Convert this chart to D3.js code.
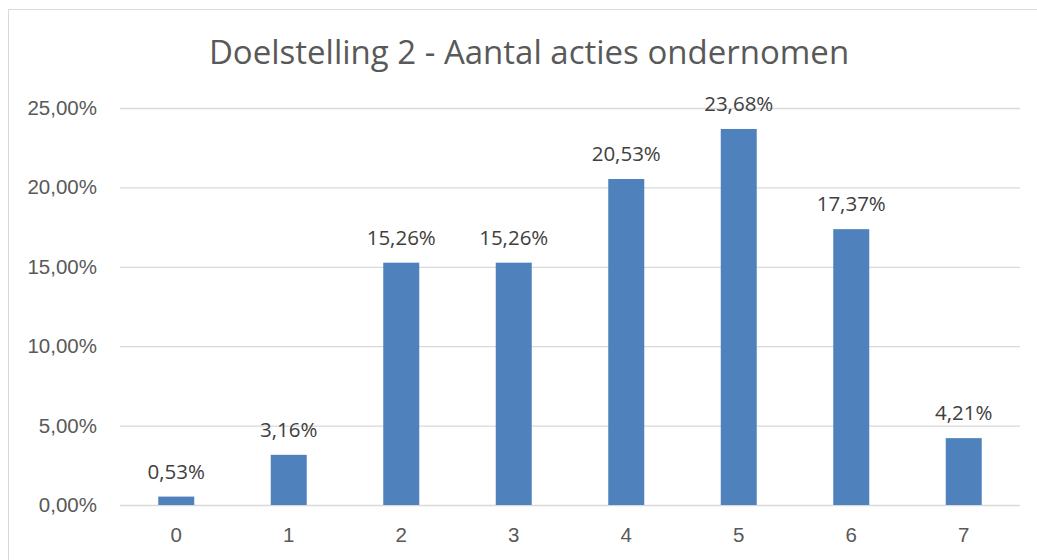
<!DOCTYPE html>
<html><head><meta charset="utf-8">
<script src="https://cdn.jsdelivr.net/npm/d3@7"></script>
<style>body{margin:0;background:#fff;}svg{display:block;font-family:"Open Sans","Liberation Sans",sans-serif;}</style>
</head><body>
<svg id="c" width="1037" height="560"></svg>
<script>
const title = "Doelstelling 2 - Aantal acties ondernomen";
const categories = ["0","1","2","3","4","5","6","7"];
const values = [0.53, 3.16, 15.26, 15.26, 20.53, 23.68, 17.37, 4.21];
const yTicks = [0, 5, 10, 15, 20, 25];

const svg = d3.select("#c");
const fmt = v => v.toFixed(2).replace(".", ",") + "%";

svg.append("rect").attr("x", 8.5).attr("y", 9.5).attr("width", 1040).attr("height", 560)
  .attr("fill", "#fff").attr("stroke", "#d9d9d9");

const x = d3.scaleBand().domain(categories).range([120, 1020]).paddingInner(0.68).paddingOuter(0.34);
const y = d3.scaleLinear().domain([0, 25]).range([505, 108]);

svg.append("text").attr("x", 529).attr("y", 64).attr("text-anchor", "middle")
  .attr("font-size", 33).attr("fill", "#595959").text(title);

const yAxis = svg.append("g").attr("transform", "translate(120,0)")
  .call(d3.axisLeft(y).tickValues(yTicks).tickSize(-900).tickFormat(fmt));
yAxis.select(".domain").remove();
yAxis.selectAll("line").attr("stroke", "#d9d9d9").attr("stroke-width", 1.3);
yAxis.selectAll("text").attr("x", -23).attr("font-size", 20.5).attr("fill", "#595959")
  .attr("font-family", "inherit");

const xAxis = svg.append("g").attr("transform", "translate(0,505)")
  .call(d3.axisBottom(x).tickSize(0));
xAxis.select(".domain").remove();
xAxis.selectAll("text").attr("dy", 0).attr("y", 37).attr("font-size", 20.5).attr("fill", "#595959")
  .attr("font-family", "inherit");

svg.selectAll("rect.bar").data(values).enter().append("rect").attr("class", "bar")
  .attr("x", (d, i) => x(categories[i])).attr("width", x.bandwidth())
  .attr("y", d => y(d)).attr("height", d => y(0) - y(d)).attr("fill", "#4f81bd");

svg.selectAll("text.lbl").data(values).enter().append("text").attr("class", "lbl")
  .attr("x", (d, i) => x(categories[i]) + x.bandwidth() / 2).attr("y", d => y(d) - 18)
  .attr("text-anchor", "middle").attr("font-size", 20.5).attr("fill", "#404040").text(fmt);
</script>
</body></html>
